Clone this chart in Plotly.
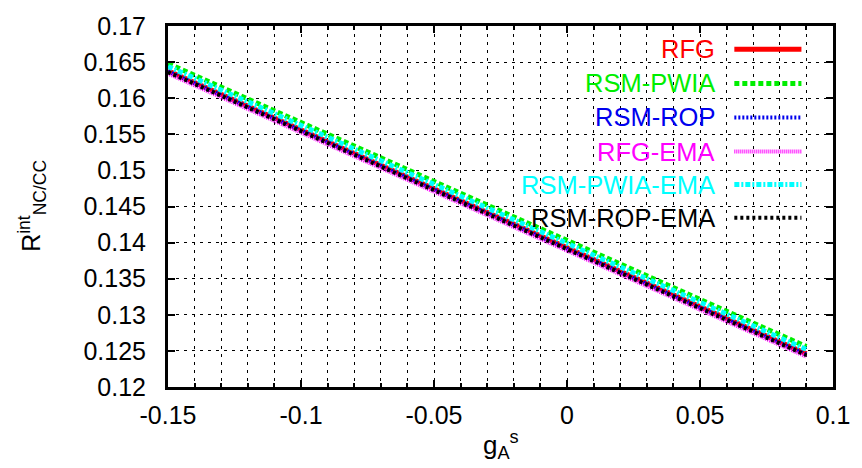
import plotly.graph_objects as go

# ---- data ----
g_As = [-0.15, -0.10, -0.05, 0.0, 0.05, 0.09]
RFG = [0.1638, 0.1556, 0.1474, 0.1393, 0.1311, 0.1246]
RSM_PWIA = [0.1648, 0.1566, 0.1484, 0.1403, 0.1321, 0.1256]
RSM_ROP = [0.1637, 0.1555, 0.1473, 0.1392, 0.1310, 0.1245]
RFG_EMA = [0.1634, 0.1552, 0.1470, 0.1389, 0.1307, 0.1242]
RSM_PWIA_EMA = [0.1644, 0.1562, 0.1480, 0.1399, 0.1317, 0.1252]
RSM_ROP_EMA = [0.1636, 0.1554, 0.1472, 0.1391, 0.1309, 0.1244]

series_names = ["RFG", "RSM-PWIA", "RSM-ROP", "RFG-EMA", "RSM-PWIA-EMA", "RSM-ROP-EMA"]
series_values = [RFG, RSM_PWIA, RSM_ROP, RFG_EMA, RSM_PWIA_EMA, RSM_ROP_EMA]
series_colors = ["#ff0000", "#00ee00", "#0000ee", "#ff00ff", "#00ffff", "#000000"]
series_dash = ["solid", "5px,3px", "2px,2px", "1px,1px", "5px,2px,2px,2px", "3px,3px"]
series_width = [5, 5, 4, 4, 5, 4]

x_tickvals = [-0.15, -0.1, -0.05, 0, 0.05, 0.1]
x_ticktext = ["-0.15", "-0.1", "-0.05", "0", "0.05", "0.1"]
y_tickvals = [0.12, 0.125, 0.13, 0.135, 0.14, 0.145, 0.15, 0.155, 0.16, 0.165, 0.17]
y_ticktext = ["0.12", "0.125", "0.13", "0.135", "0.14", "0.145", "0.15", "0.155", "0.16", "0.165", "0.17"]

FONT = "Liberation Sans, Arial, sans-serif"

fig = go.Figure()
for name, vals, col, dash, w in zip(series_names, series_values, series_colors, series_dash, series_width):
    fig.add_trace(go.Scatter(x=g_As, y=vals, mode="lines", name=name,
                             line=dict(color=col, dash=dash, width=w), showlegend=False))

# custom gnuplot-style legend (text right-aligned, sample to the right)
L, R, T, B = 168, 842, 16, 387
W, H = R - L, B - T
row_y = [40, 75, 110, 145, 179, 213]
for name, col, dash, w, py in zip(series_names, series_colors, series_dash, series_width, row_y):
    yp = (B - py) / H
    fig.add_annotation(x=(724 - L) / W, y=yp, xref="paper", yref="paper", text=name,
                       showarrow=False, xanchor="right", yanchor="middle",
                       font=dict(family=FONT, size=25.5, color=col))
    fig.add_shape(type="line", xref="paper", yref="paper",
                  x0=(742 - L) / W, x1=(810 - L) / W, y0=yp, y1=yp,
                  line=dict(color=col, dash=dash, width=w))

# axis titles
fig.add_annotation(x=(505 - L) / W, y=(B - 447) / H, xref="paper", yref="paper",
                   text="g<sub>A</sub><sup>s</sup>", showarrow=False,
                   xanchor="center", yanchor="middle",
                   font=dict(family=FONT, size=26, color="black"))
fig.add_annotation(x=(30 - L) / W, y=(B - 201) / H, xref="paper", yref="paper",
                   text="R<sup>int</sup><sub>NC/CC</sub>", showarrow=False, textangle=-90,
                   xanchor="center", yanchor="middle",
                   font=dict(family=FONT, size=25, color="black"))

grid = dict(gridcolor="black", gridwidth=1, griddash="3px,5px")
fig.update_xaxes(range=[-0.15, 0.1], tickvals=x_tickvals, ticktext=x_ticktext,
                 showline=True, linecolor="black", linewidth=3, mirror="allticks",
                 ticks="inside", ticklen=7, tickwidth=2, tickcolor="black",
                 showgrid=True, zeroline=False,
                 minor=dict(dtick=0.01, tick0=0, ticks="inside", ticklen=4, tickwidth=2,
                            tickcolor="black", showgrid=True, **grid),
                 tickfont=dict(family=FONT, size=25, color="black"), ticklabelstandoff=4,
                 **grid)
fig.update_yaxes(range=[0.12, 0.17], tickvals=y_tickvals, ticktext=y_ticktext,
                 showline=True, linecolor="black", linewidth=3, mirror="allticks",
                 ticks="inside", ticklen=7, tickwidth=2, tickcolor="black",
                 showgrid=True, zeroline=False,
                 tickfont=dict(family=FONT, size=25, color="black"), ticklabelstandoff=14,
                 **grid)

fig.update_layout(width=862, height=468, autosize=False,
                  margin=dict(l=L, r=862 - R, t=T, b=468 - B),
                  plot_bgcolor="white", paper_bgcolor="white",
                  font=dict(family=FONT, size=25, color="black"))

fig.write_html("out.html")
